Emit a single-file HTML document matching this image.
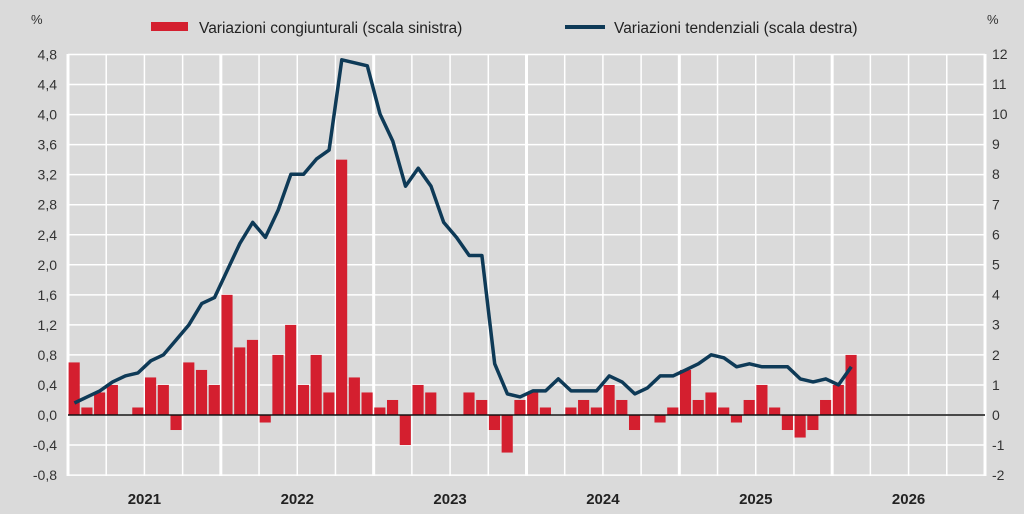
<!DOCTYPE html>
<html><head><meta charset="utf-8"><style>
body{margin:0;background:#dadada;}
svg{display:block;font-family:"Liberation Sans",sans-serif;}
</style></head><body>
<svg width="1024" height="514" viewBox="0 0 1024 514" xmlns="http://www.w3.org/2000/svg">
<rect width="1024" height="514" fill="#dadada"/>
<g id="g"></g>
<text x="31" y="24" font-size="13" fill="#333">%</text>
<text x="987" y="24" font-size="13" fill="#333">%</text>
<rect x="151" y="22" width="37" height="9" fill="#d41f2f"/>
<text x="199" y="33" font-size="15.5" fill="#222">Variazioni congiunturali (scala sinistra)</text>
<line x1="565" y1="27" x2="605" y2="27" stroke="#0e3a57" stroke-width="4"/>
<text x="614" y="33" font-size="15.5" fill="#222">Variazioni tendenziali (scala destra)</text>
</svg>
<script>
const svg=document.querySelector('svg'),g=document.getElementById('g');
const NS='http://www.w3.org/2000/svg';
function el(t,a,txt){const e=document.createElementNS(NS,t);for(const k in a)e.setAttribute(k,a[k]);if(txt!==undefined)e.textContent=txt;g.appendChild(e);return e;}
const L=68,R=985,T=54,B=476,mw=(R-L)/72;
const yl=v=>415-v*75.1, yr=v=>415-v*30.1;
// horizontal grid
for(let i=0;i<=14;i++){const v=-0.8+i*0.4;const y=yl(v);
 el('line',{x1:L,x2:R,y1:y,y2:y,stroke:'#fff','stroke-width':1.5});
 el('text',{x:57,y:y+5,'font-size':14,fill:'#333','text-anchor':'end'},v.toFixed(1).replace('.',','));}
for(let v=-2;v<=12;v++){el('text',{x:992,y:yr(v)+5,'font-size':14,fill:'#333'},String(v));}
for(let q=0;q<=24;q++){const x=L+q*3*mw;el('line',{x1:x,x2:x,y1:T,y2:B,stroke:'#fff','stroke-width':q%4==0?3:1.5});}
const years=[2021,2022,2023,2024,2025,2026];
years.forEach((y,i)=>el('text',{x:L+(i+0.5)*12*mw,y:504,'font-size':15,'font-weight':'bold',fill:'#222','text-anchor':'middle'},y));
const bars=[0.7,0.1,0.3,0.4,0,0.1,0.5,0.4,-0.2,0.7,0.6,0.4,
1.6,0.9,1.0,-0.1,0.8,1.2,0.4,0.8,0.3,3.4,0.5,0.3,
0.1,0.2,-0.4,0.4,0.3,0,0,0.3,0.2,-0.2,-0.5,0.2,
0.3,0.1,0,0.1,0.2,0.1,0.4,0.2,-0.2,0,-0.1,0.1,
0.6,0.2,0.3,0.1,-0.1,0.2,0.4,0.1,-0.2,-0.3,-0.2,0.2,
0.4,0.8];
bars.forEach((v,i)=>{if(!v)return;const x=L+i*mw+0.6;const y0=yl(0),y1=yl(v);
 el('rect',{x:x,y:Math.min(y0,y1),width:mw-1.6,height:Math.abs(y1-y0),fill:'#d41f2f'});});
el('line',{x1:L,x2:R,y1:yl(0),y2:yl(0),stroke:'#111','stroke-width':1.5});
const line=[0.4,0.6,0.8,1.1,1.3,1.4,1.8,2.0,2.5,3.0,3.7,3.9,
4.8,5.7,6.4,5.9,6.8,8.0,8.0,8.5,8.8,11.8,11.7,11.6,
10.0,9.1,7.6,8.2,7.6,6.4,5.9,5.3,5.3,1.7,0.7,0.6,
0.8,0.8,1.2,0.8,0.8,0.8,1.3,1.1,0.7,0.9,1.3,1.3,
1.5,1.7,2.0,1.9,1.6,1.7,1.6,1.6,1.6,1.2,1.1,1.2,
1.0,1.6];
el('polyline',{points:line.map((v,i)=>(L+(i+0.5)*mw).toFixed(1)+','+yr(v).toFixed(1)).join(' '),fill:'none',stroke:'#0e3a57','stroke-width':3.5,'stroke-linejoin':'round'});
</script>
</body></html>
